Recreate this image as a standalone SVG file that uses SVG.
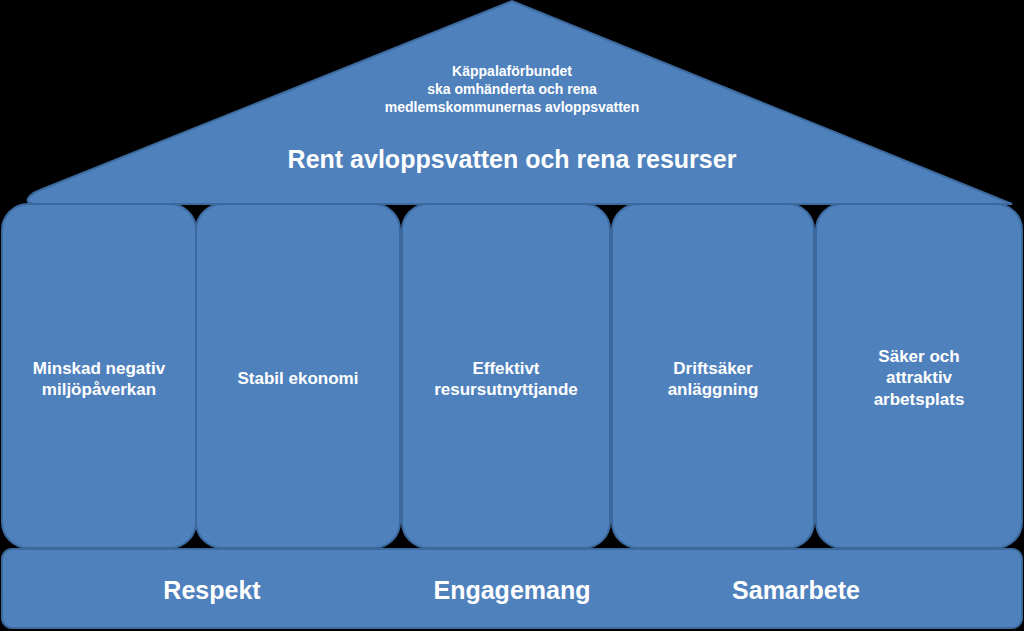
<svg xmlns="http://www.w3.org/2000/svg" width="1024" height="631" viewBox="0 0 1024 631">
<style>
.s{fill:#4f81bd;stroke:#3d6a9e;stroke-width:2}
.t{font-family:"Liberation Sans",Arial,sans-serif;font-weight:bold;fill:#fff;text-anchor:middle}
.m{font-size:17px}
</style>
<rect width="1024" height="631" fill="#000"/>
<g id="roof">
<path class="s" d="M30,196 Q22,204 40,204 L1012,204 L512,1 L40,190 Q34,192 30,196 Z"/>
<text class="t" font-size="14" x="512" y="76">Käppalaförbundet</text>
<text class="t" font-size="14" x="512" y="94">ska omhänderta och rena</text>
<text class="t" font-size="14" x="512" y="112">medlemskommunernas avloppsvatten</text>
<text class="t" font-size="25" x="512" y="168">Rent avloppsvatten och rena resurser</text>
</g>
<g id="p1"><rect class="s" x="2" y="204" width="194" height="344" rx="26"/>
<text class="t m" x="99" y="374">Minskad negativ</text><text class="t m" x="99" y="395">miljöpåverkan</text></g>
<g id="p2"><rect class="s" x="196" y="204" width="204" height="344" rx="26"/>
<text class="t m" x="298" y="384">Stabil ekonomi</text></g>
<g id="p3"><rect class="s" x="402" y="204" width="208" height="344" rx="26"/>
<text class="t m" x="506" y="374">Effektivt</text><text class="t m" x="506" y="395">resursutnyttjande</text></g>
<g id="p4"><rect class="s" x="612" y="204" width="202" height="344" rx="26"/>
<text class="t m" x="713" y="374">Driftsäker</text><text class="t m" x="713" y="395">anläggning</text></g>
<g id="p5"><rect class="s" x="816" y="204" width="206" height="344" rx="26"/>
<text class="t m" x="919" y="362">Säker och</text><text class="t m" x="919" y="383">attraktiv</text><text class="t m" x="919" y="405">arbetsplats</text></g>
<g id="base"><rect class="s" x="2" y="549" width="1020" height="79" rx="10"/>
<text class="t" font-size="25" x="212" y="599">Respekt</text>
<text class="t" font-size="25" x="512" y="599">Engagemang</text>
<text class="t" font-size="25" x="796" y="599">Samarbete</text></g>
<g id="connectors"/>
</svg>
